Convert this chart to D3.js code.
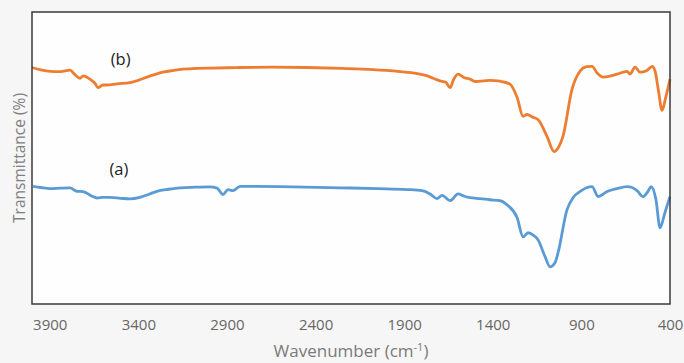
<!DOCTYPE html>
<html>
<head>
<meta charset="utf-8">
<script src="https://cdn.jsdelivr.net/npm/d3@7"></script>
<style>
  html, body { margin: 0; padding: 0; background: #f6f6f6; }
  svg { display: block; }
</style>
</head>
<body>
<svg id="chart" width="684" height="363"></svg>
<script>
// FTIR spectra: wavenumber (cm-1) and transmittance (arbitrary offset scale)
const wavenumbersB = [4000, 3950, 3898, 3840, 3786, 3757, 3729, 3712, 3673, 3645, 3628, 3600, 3577, 3520, 3447, 3400, 3351, 3300, 3261, 3200, 3148, 3060, 2979, 2900, 2826, 2650, 2448, 2250, 2076, 2000, 1923, 1860, 1811, 1770, 1737, 1698, 1665, 1641, 1620, 1596, 1560, 1528, 1500, 1472, 1420, 1359, 1303, 1263, 1229, 1207, 1175, 1145, 1094, 1054, 1030, 1004, 953, 908, 870, 840, 810, 778, 740, 699, 642, 626, 597, 569, 530, 501, 484, 465, 445, 425, 400];
const transB = [81.0, 80.2, 79.7, 79.6, 80.1, 78.5, 77.3, 78.1, 77.0, 75.6, 74.1, 75.0, 75.0, 75.4, 75.8, 76.6, 77.7, 78.7, 79.4, 80.0, 80.4, 80.7, 80.8, 80.9, 81.0, 81.1, 81.0, 80.7, 80.3, 80.0, 79.6, 79.2, 78.7, 78.1, 77.3, 76.4, 75.9, 74.1, 77.0, 78.7, 77.5, 77.0, 76.2, 76.3, 76.6, 76.3, 75.3, 70.8, 64.3, 64.9, 64.0, 63.2, 57.4, 52.2, 53.6, 57.4, 73.5, 79.7, 81.3, 81.4, 79.0, 77.7, 78.0, 78.7, 79.7, 78.7, 81.1, 79.4, 80.0, 81.4, 79.7, 73.0, 66.3, 70.5, 77.0];

const wavenumbersA = [3994, 3950, 3898, 3840, 3786, 3746, 3712, 3661, 3633, 3600, 3560, 3500, 3447, 3391, 3340, 3295, 3230, 3165, 3080, 2996, 2956, 2922, 2894, 2866, 2826, 2600, 2262, 2050, 1884, 1799, 1754, 1715, 1686, 1641, 1596, 1560, 1528, 1472, 1416, 1359, 1320, 1263, 1229, 1201, 1170, 1145, 1105, 1077, 1050, 1032, 981, 947, 900, 868, 840, 806, 755, 700, 642, 614, 586, 552, 525, 507, 480, 456, 430, 400];
const transA = [40.3, 39.9, 39.5, 39.7, 39.8, 38.6, 38.5, 36.9, 36.3, 36.5, 36.5, 36.2, 36.0, 36.5, 37.6, 38.6, 39.3, 39.8, 40.0, 40.1, 39.7, 37.5, 39.2, 38.8, 40.3, 40.2, 39.8, 39.5, 39.2, 38.8, 37.7, 36.1, 37.2, 35.4, 37.7, 36.9, 36.4, 36.1, 35.7, 35.4, 34.0, 29.6, 23.0, 24.4, 23.5, 22.0, 16.2, 12.7, 14.0, 17.5, 32.3, 36.4, 38.8, 39.9, 40.2, 36.8, 38.5, 39.5, 40.2, 39.9, 38.8, 36.8, 38.5, 40.2, 36.0, 26.1, 31.0, 36.8];

const xTicks = [3900, 3400, 2900, 2400, 1900, 1400, 900, 400];
const seriesNames = ["(b)", "(a)"];

const svg = d3.select("#chart");
const margin = { left: 32, right: 14, top: 12, bottom: 59 };
const W = 684, H = 363;

const x = d3.scaleLinear().domain([4000, 400]).range([margin.left, W - margin.right]);
const y = d3.scaleLinear().domain([0, 100]).range([H - margin.bottom, margin.top]);

// plot area
svg.append("rect")
  .attr("x", margin.left).attr("y", margin.top)
  .attr("width", W - margin.left - margin.right)
  .attr("height", H - margin.top - margin.bottom)
  .attr("fill", "#fefefe");

const line = d3.line().x(d => x(d[0])).y(d => y(d[1])).curve(d3.curveMonotoneX);

const seriesB = wavenumbersB.map((w, i) => [w, transB[i]]);
const seriesA = wavenumbersA.map((w, i) => [w, transA[i]]);

svg.append("path").datum(seriesA)
  .attr("d", line).attr("fill", "none")
  .attr("stroke", "#5B9BD5").attr("stroke-width", 2.8).attr("stroke-linejoin", "round");
svg.append("path").datum(seriesB)
  .attr("d", line).attr("fill", "none")
  .attr("stroke", "#ED7D31").attr("stroke-width", 2.8).attr("stroke-linejoin", "round");

// frame
svg.append("rect")
  .attr("x", margin.left).attr("y", margin.top)
  .attr("width", W - margin.left - margin.right)
  .attr("height", H - margin.top - margin.bottom)
  .attr("fill", "none").attr("stroke", "#3a3a3a").attr("stroke-width", 1.5);

// x axis labels
const xAxis = d3.axisBottom(x).tickValues(xTicks).tickSize(0).tickPadding(15).tickFormat(d3.format("d"));
const gx = svg.append("g").attr("transform", `translate(0,${H - margin.bottom})`).call(xAxis);
gx.select(".domain").remove();
gx.selectAll("text")
  .attr("font-family", "'Open Sans', sans-serif")
  .attr("font-size", 15)
  .attr("fill", "#666");

// axis titles
const title = svg.append("text")
  .attr("x", (margin.left + W - margin.right) / 2).attr("y", 357)
  .attr("text-anchor", "middle")
  .attr("font-family", "'Open Sans', sans-serif").attr("font-size", 17)
  .attr("fill", "#7a7a7a");
title.append("tspan").text("Wavenumber (cm");
title.append("tspan").attr("dy", -6).attr("font-size", 11).text("-1");
title.append("tspan").attr("dy", 6).text(")");

svg.append("text")
  .attr("transform", `translate(25,${(margin.top + H - margin.bottom) / 2}) rotate(-90)`)
  .attr("text-anchor", "middle")
  .attr("font-family", "'Open Sans', sans-serif").attr("font-size", 15.5)
  .attr("fill", "#808080")
  .text("Transmittance (%)");

// series labels
const labelPos = [[3500, 81.8], [3510, 44.3]];
seriesNames.forEach((n, i) => {
  svg.append("text")
    .attr("x", x(labelPos[i][0])).attr("y", y(labelPos[i][1]))
    .attr("text-anchor", "middle")
    .attr("font-family", "'Open Sans', sans-serif").attr("font-size", 16.5)
    .attr("fill", "#222")
    .text(n);
});
</script>
</body>
</html>
